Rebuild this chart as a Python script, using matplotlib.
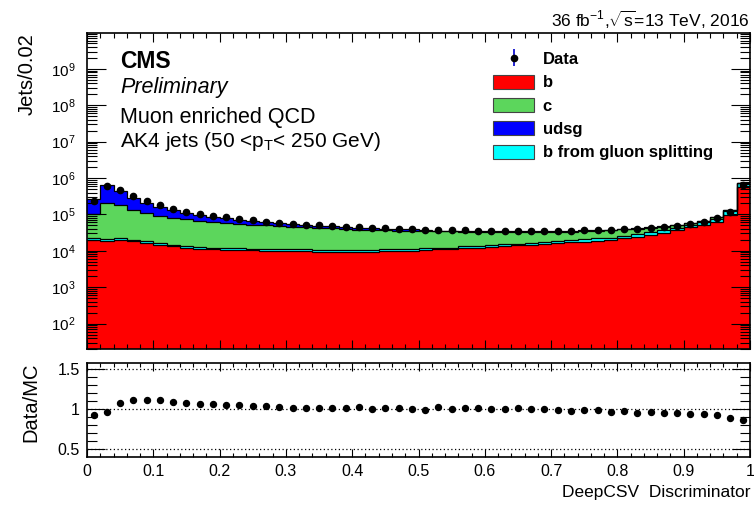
import numpy as np
import matplotlib
matplotlib.use('Agg')
import matplotlib.pyplot as plt
from matplotlib.patches import Patch
from matplotlib.ticker import MultipleLocator, LogLocator, NullFormatter, FuncFormatter, FixedLocator

plt.rcParams['font.family'] = ['Liberation Sans', 'DejaVu Sans']
plt.rcParams['mathtext.fontset'] = 'custom'
plt.rcParams['mathtext.rm'] = 'Liberation Sans'
plt.rcParams['mathtext.it'] = 'Liberation Sans:italic'

# DeepCSV discriminator, 50 bins of 0.02
bin_edges = np.linspace(0, 1, 51)

# MC components (jets per bin), stacked bottom -> top: b, b from gluon splitting, c, udsg
b_jets = [19500, 18600, 20400, 18200, 16600, 14500, 13200, 12000, 11200, 11000,
          10700, 10500, 10200, 10000, 10000, 9800, 9800, 9550, 9550, 9330,
          9330, 9330, 9800, 10000, 10000, 10700, 11000, 11000, 12000, 12300,
          12900, 13500, 14100, 14800, 15500, 16200, 17000, 17800, 18600, 19500,
          21900, 24000, 26900, 30900, 36300, 43700, 51300, 63100, 95500, 550000]
b_gluon = [2400, 2300, 2500, 2200, 2000, 1800, 1600, 1500, 1400, 1300,
           1300, 1300, 1200, 1200, 1200, 1200, 1200, 1200, 1200, 1100,
           1100, 1100, 1200, 1200, 1200, 1300, 1300, 1300, 1500, 1500,
           1600, 1600, 1700, 1800, 1900, 2000, 2800, 3000, 3200, 3500,
           4000, 4500, 5200, 6000, 7200, 8500, 10000, 14000, 30400, 175000]
c_jets = [78000, 179000, 159000, 111000, 91000, 77000, 66500, 60600, 53500, 48000,
          46900, 43200, 41100, 38900, 36700, 34700, 33200, 32000, 31000, 29400,
          27600, 26800, 25300, 24700, 24300, 23100, 22000, 22000, 20400, 19700,
          19000, 18400, 16900, 16500, 15700, 15300, 14100, 14300, 14100, 13700,
          12600, 11300, 10600, 9300, 6600, 4300, 3800, 7700, 3000, 8000]
udsg_jets = [159000, 424000, 253000, 160000, 100000, 70800, 48400, 35300, 27400, 23800,
             19800, 14300, 13300, 10000, 9000, 7500, 6600, 6100, 5800, 5100,
             5600, 5200, 4300, 3700, 3500, 2700, 1700, 1800, 1700, 1400,
             1700, 1700, 1500, 1600, 1600, 1500, 1300, 1500, 1600, 1600,
             1400, 1700, 1500, 1600, 1400, 1000, 1500, 2000, 2000, 8000]

data = [240000, 603000, 468000, 324000, 234000, 182000, 141000, 117500, 100000, 89700,
        82600, 72800, 68400, 62500, 58700, 54100, 51600, 49800, 48500, 45600,
        44700, 42800, 41100, 40200, 39400, 37700, 36900, 36200, 36200, 35500,
        35500, 35500, 34700, 34700, 34700, 34700, 34700, 36300, 37200, 37200,
        38900, 39800, 42700, 45700, 49000, 53700, 63100, 81300, 117500, 645700]

ratio = [0.925, 0.967, 1.075, 1.11, 1.117, 1.11, 1.09, 1.075, 1.07, 1.067,
         1.05, 1.05, 1.04, 1.04, 1.033, 1.017, 1.017, 1.02, 1.02, 1.017,
         1.025, 1.008, 1.013, 1.013, 1.008, 0.996, 1.025, 1.004, 1.017, 1.017,
         1.008, 1.008, 1.013, 1.0, 1.0, 0.99, 0.983, 0.99, 0.99, 0.97,
         0.975, 0.96, 0.967, 0.958, 0.95, 0.94, 0.94, 0.925, 0.896, 0.867]

y_major = [1e2, 1e3, 1e4, 1e5, 1e6, 1e7, 1e8, 1e9]

centers = 0.5 * (bin_edges[1:] + bin_edges[:-1])

W, H = 754, 505
fig = plt.figure(figsize=(W / 100, H / 100), dpi=100)
ax = fig.add_axes([87 / W, 1 - 349 / H, (750 - 87) / W, (349 - 33.3) / H])
ax2 = fig.add_axes([87 / W, 1 - 456.7 / H, (750 - 87) / W, (456.7 - 362.7) / H])

# stacked histogram
layers = [(b_jets, '#ff0000'),
          (b_gluon, '#00ffff'),
          (c_jets, '#5cd65c'),
          (udsg_jets, '#0000ff')]
bottom = np.zeros(50)
tops = []
for vals, col in layers:
    top = bottom + np.array(vals, dtype=float)
    ax.stairs(top, bin_edges, baseline=np.where(bottom > 0, bottom, 1.0),
              fill=True, color=col, lw=0)
    tops.append(top)
    bottom = top
for top in tops:
    ax.stairs(top, bin_edges, baseline=None, color='black', lw=0.9)

hdata = ax.errorbar(centers, data, yerr=np.sqrt(data), fmt='o', color='black',
                    ecolor='#0000cc', ms=4.5, elinewidth=1.2, capsize=0)

ax.set_yscale('log')
ax.set_ylim(20, 9.5e9)
ax.set_xlim(0, 1)
ax.xaxis.set_major_locator(MultipleLocator(0.1))
ax.xaxis.set_minor_locator(MultipleLocator(0.02))
ax.yaxis.set_major_locator(FixedLocator(y_major))
ax.yaxis.set_minor_locator(LogLocator(base=10, subs=np.arange(2, 10), numticks=20))
ax.yaxis.set_minor_formatter(NullFormatter())
ax.tick_params(which='both', direction='in', top=True, right=True, labelbottom=False,
               labelsize=11, color='black')
ax.tick_params(axis='x', which='major', length=6.5, width=0.8)
ax.tick_params(axis='x', which='minor', length=3.5, width=0.8)
ax.tick_params(axis='y', which='major', length=14, width=0.8, pad=8)
ax.tick_params(axis='y', which='minor', length=7, width=0.8)
for sp in ax.spines.values():
    sp.set_linewidth(1.2)

# legend
handles = [hdata,
           Patch(facecolor='#ff0000', edgecolor='#444444', lw=0.8),
           Patch(facecolor='#5cd65c', edgecolor='#444444', lw=0.8),
           Patch(facecolor='#0000ff', edgecolor='#444444', lw=0.8),
           Patch(facecolor='#00ffff', edgecolor='#444444', lw=0.8)]
labels = ['Data', 'b', 'c', 'udsg', 'b from gluon splitting']
ax.legend(handles, labels, loc='upper left', bbox_to_anchor=(492.7 / W, 1 - 51.5 / H),
          bbox_transform=fig.transFigure, frameon=False, borderpad=0, borderaxespad=0,
          prop={'weight': 'bold', 'size': 12}, handlelength=2.5, handleheight=0.9,
          handletextpad=0.5, labelspacing=0.46)

# ratio panel
ax2.plot(centers, ratio, 'o', color='black', ms=4.3)
for lvl in [0.5, 1.0, 1.5]:
    ax2.axhline(lvl, color='black', ls=(0, (1, 2)), lw=0.9)
ax2.set_xlim(0, 1)
ax2.set_ylim(0.41, 1.58)
ax2.xaxis.set_major_locator(MultipleLocator(0.1))
ax2.xaxis.set_minor_locator(MultipleLocator(0.02))
ax2.yaxis.set_major_locator(MultipleLocator(0.5))
ax2.yaxis.set_minor_locator(MultipleLocator(0.1))
ax2.xaxis.set_major_formatter(FuncFormatter(lambda v, p: '%g' % round(v, 2)))
ax2.yaxis.set_major_formatter(FuncFormatter(lambda v, p: '%g' % round(v, 2)))
ax2.tick_params(which='both', direction='in', top=True, right=True, labelsize=11.5)
ax2.tick_params(axis='x', which='major', length=6, width=0.8, pad=5)
ax2.tick_params(axis='x', which='minor', length=3, width=0.8)
ax2.tick_params(axis='y', which='major', length=13, width=0.8, pad=5)
ax2.tick_params(axis='y', which='minor', length=7, width=0.8)
for sp in ax2.spines.values():
    sp.set_linewidth(1.2)

# texts
fig.text(26.7 / W, 1 - 33.3 / H, 'Jets/0.02', rotation=90, ha='center', va='top', fontsize=14.5)
fig.text(31 / W, 1 - 362.7 / H, 'Data/MC', rotation=90, ha='center', va='top', fontsize=14.5)
fig.text(750 / W, 1 - 497 / H, 'DeepCSV  Discriminator', ha='right', va='baseline', fontsize=12.5)
fig.text(750 / W, 1 - 27.3 / H, r'36 fb$^{\mathregular{-1}}$,$\sqrt{\mathregular{s}}$=13 TeV, 2016',
         ha='right', va='baseline', fontsize=12.5)
fig.text(120 / W, 1 - 67.5 / H, 'CMS', fontweight='bold', fontsize=16.5, va='baseline')
fig.text(120 / W, 1 - 93.3 / H, 'Preliminary', style='italic', fontsize=15.5, va='baseline')
fig.text(120 / W, 1 - 122.7 / H, 'Muon enriched QCD', fontsize=15.5, va='baseline')
fig.text(120 / W, 1 - 146.7 / H, r'AK4 jets (50 <p$_{\mathregular{T}}$< 250 GeV)', fontsize=15, va='baseline')

fig.savefig('out.png', dpi=100)
